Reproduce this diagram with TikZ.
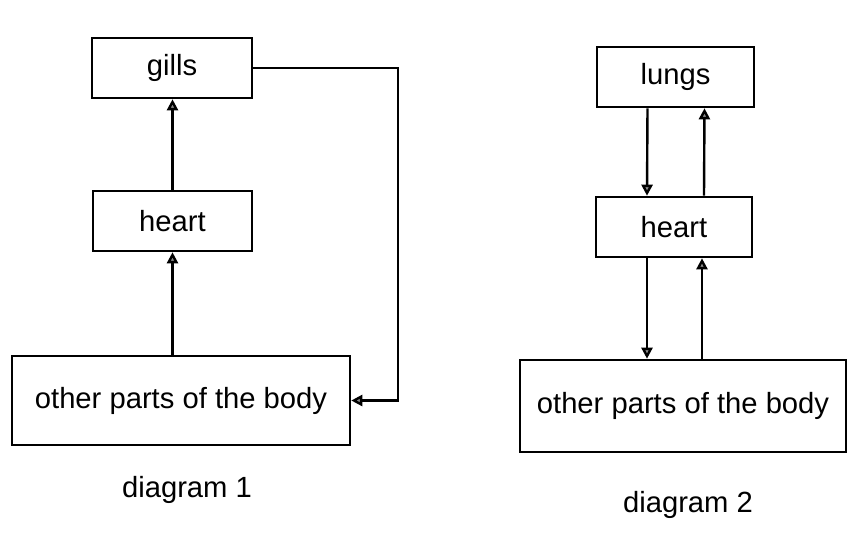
\documentclass[tikz,border=0pt]{standalone}
\usepackage{fontspec}
\setmainfont{Liberation Sans}
\usetikzlibrary{arrows.meta}
\definecolor{tipGray}{HTML}{8A8A8A}

\begin{document}
\begin{tikzpicture}[x=0.5pt, y=-0.5pt,
    organ/.style={draw, line width=1.3pt, inner sep=0pt,
        font=\fontsize{14.6}{17}\selectfont},
    caption/.style={font=\fontsize{14.6}{17}\selectfont},
    flow/.style={line width=1.2pt,
        -{Triangle[length=5.5pt, width=5.5pt, fill=tipGray]}}]

    \useasboundingbox (0,0) rectangle (847,532);

    % diagram 1
    \node[organ, minimum width=80pt, minimum height=30pt] (gills) at (172,68) {gills};
    \node[organ, minimum width=79.5pt, minimum height=30pt] (heartA) at (172.5,221) {heart};
    \node[organ, minimum width=169pt, minimum height=44.5pt] (bodyA) at (181,400.5) {other parts of the body};
    \coordinate (backA) at (398,0);

    \draw[flow] (heartA.north |- bodyA.north) -- (heartA.south);
    \draw[flow] (heartA.north) -- (gills.south -| heartA.north);
    \draw[flow] (gills.east) -- (gills.east -| backA) -- (bodyA.east -| backA) -- (bodyA.east);

    \node[caption] (capA) at (187,490) {diagram 1};

    % diagram 2
    \node[organ, minimum width=78.5pt, minimum height=30pt] (lungs) at (675.5,77) {lungs};
    \node[organ, minimum width=78pt, minimum height=30pt] (heartB) at (674,227) {heart};
    \node[organ, minimum width=163pt, minimum height=46pt] (bodyB) at (683,406) {other parts of the body};

    \draw[flow] ([xshift=-14pt]lungs.south) -- ([xshift=-13.5pt]heartB.north);
    \draw[flow] ([xshift=15pt]heartB.north) -- ([xshift=14.5pt]lungs.south);
    \draw[flow] ([xshift=-13.5pt]heartB.south) -- ([xshift=-13.5pt]heartB.south |- bodyB.north);
    \draw[flow] ([xshift=14pt]heartB.south |- bodyB.north) -- ([xshift=14pt]heartB.south);

    \node[caption] (capB) at (688,505) {diagram 2};
\end{tikzpicture}
\end{document}
